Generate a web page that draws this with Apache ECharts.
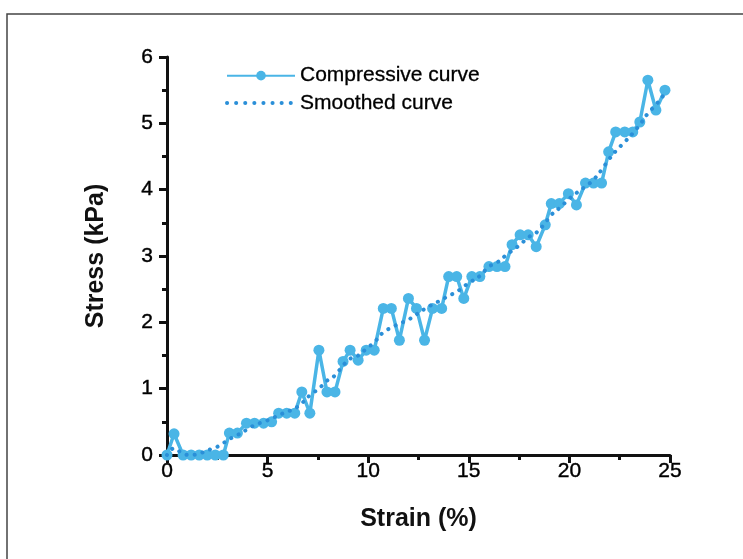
<!DOCTYPE html>
<html>
<head>
<meta charset="utf-8">
<script src="https://cdn.jsdelivr.net/npm/echarts@6/dist/echarts.min.js"></script>
<style>
  html, body { margin: 0; padding: 0; background: #fff; }
  #chart { width: 743px; height: 559px; }
</style>
</head>
<body>
<div id="chart"></div>
<script>
// strain (%) of each measured point
var strain = [0, 0.35, 0.8, 1.2, 1.6, 2.0, 2.4, 2.8, 3.1, 3.5, 3.95, 4.35, 4.8, 5.2, 5.55,
  5.95, 6.35, 6.7, 7.1, 7.55, 7.95, 8.35, 8.75, 9.1, 9.5, 9.9, 10.3, 10.75, 11.15, 11.55,
  12.0, 12.4, 12.8, 13.2, 13.65, 14.0, 14.4, 14.75, 15.15, 15.55, 16.0, 16.4, 16.8, 17.15,
  17.55, 17.95, 18.35, 18.8, 19.1, 19.5, 19.95, 20.35, 20.8, 21.2, 21.6, 21.95, 22.3,
  22.75, 23.15, 23.5, 23.9, 24.3, 24.75];

// stress (kPa), raw
var stressRaw = [0, 0.32, 0, 0, 0, 0, 0, 0, 0.33, 0.33, 0.48, 0.48, 0.48, 0.5, 0.63,
  0.63, 0.63, 0.95, 0.63, 1.58, 0.95, 0.95, 1.41, 1.58, 1.43, 1.58, 1.58, 2.21, 2.21, 1.73,
  2.36, 2.21, 1.73, 2.21, 2.21, 2.69, 2.69, 2.36, 2.69, 2.69, 2.84, 2.84, 2.84, 3.17,
  3.32, 3.32, 3.14, 3.47, 3.79, 3.79, 3.94, 3.77, 4.1, 4.1, 4.1, 4.57, 4.87,
  4.87, 4.87, 5.02, 5.65, 5.2, 5.5];

// stress (kPa), smoothed
var stressSmooth = [0, 0.1, 0.02, 0, 0.02, 0.07, 0.11, 0.18, 0.24, 0.3, 0.38, 0.45, 0.5, 0.55, 0.6,
  0.65, 0.7, 0.78, 0.9, 1.0, 1.12, 1.2, 1.35, 1.45, 1.5, 1.6, 1.7, 1.85, 1.92, 1.98,
  2.04, 2.12, 2.2, 2.27, 2.34, 2.4, 2.46, 2.54, 2.62, 2.7, 2.84, 2.9, 3.0, 3.08,
  3.17, 3.28, 3.35, 3.5, 3.62, 3.72, 3.85, 3.95, 4.05, 4.15, 4.3, 4.45, 4.58,
  4.72, 4.85, 4.98, 5.15, 5.28, 5.45];

var seriesNames = ['Compressive curve', 'Smoothed curve'];

function pairs(xs, ys) {
  return xs.map(function (x, i) { return [x, ys[i]]; });
}

var font = '"Liberation Sans", Arial, sans-serif';
var axisCommon = {
  axisLine: { show: true, onZero: false, lineStyle: { color: '#111', width: 3 } },
  axisTick: { show: true, inside: false, length: 8, lineStyle: { color: '#111', width: 3 } },
  minorTick: { show: true, splitNumber: 2, length: 5, lineStyle: { color: '#111', width: 3 } },
  splitLine: { show: false },
  nameLocation: 'middle',
  nameTextStyle: { fontFamily: font, fontSize: 25, fontWeight: 'bold', color: '#111' }
};
var tickText = { fontFamily: font, fontSize: 21, color: '#000', textBorderColor: '#000', textBorderWidth: 0.4 };

var chart = echarts.init(document.getElementById('chart'));
chart.setOption({
  animation: false,
  backgroundColor: '#fff',
  graphic: [{
    type: 'rect',
    shape: { x: 7, y: 14, width: 800, height: 600 },
    style: { fill: null, stroke: '#444', lineWidth: 1.5 },
    silent: true
  }],
  grid: { left: 167, right: 73, top: 57, bottom: 104 },
  legend: {
    orient: 'vertical',
    left: 220,
    top: 60,
    itemWidth: 68,
    itemHeight: 12,
    itemGap: 6,
    data: [
      { name: seriesNames[0] },
      { name: seriesNames[1], itemStyle: { opacity: 0 }, lineStyle: { width: 4, type: [0.1, 9] } }
    ],
    textStyle: { fontFamily: font, fontSize: 21, color: '#000', textBorderColor: '#000', textBorderWidth: 0.3 }
  },
  xAxis: Object.assign({}, axisCommon, {
    type: 'value',
    min: 0,
    max: 25,
    interval: 5,
    name: 'Strain (%)',
    nameGap: 52,
    axisLabel: Object.assign({ margin: 6 }, tickText)
  }),
  yAxis: Object.assign({}, axisCommon, {
    type: 'value',
    min: 0,
    max: 6,
    interval: 1,
    name: 'Stress (kPa)',
    nameGap: 58,
    axisLabel: Object.assign({ margin: 14 }, tickText)
  }),
  series: [{
    name: seriesNames[0],
    type: 'line',
    data: pairs(strain, stressRaw),
    symbol: 'circle',
    symbolSize: 11,
    showSymbol: true,
    itemStyle: { color: '#4ab5e6' },
    lineStyle: { color: '#4ab5e6', width: 3.5 },
    z: 2
  }, {
    name: seriesNames[1],
    type: 'line',
    data: pairs(strain, stressSmooth),
    smooth: true,
    symbol: 'none',
    itemStyle: { color: '#2a8fd8' },
    lineStyle: { color: '#2a8fd8', width: 4, type: [0.1, 8], cap: 'round' },
    z: 3
  }]
});
</script>
</body>
</html>
